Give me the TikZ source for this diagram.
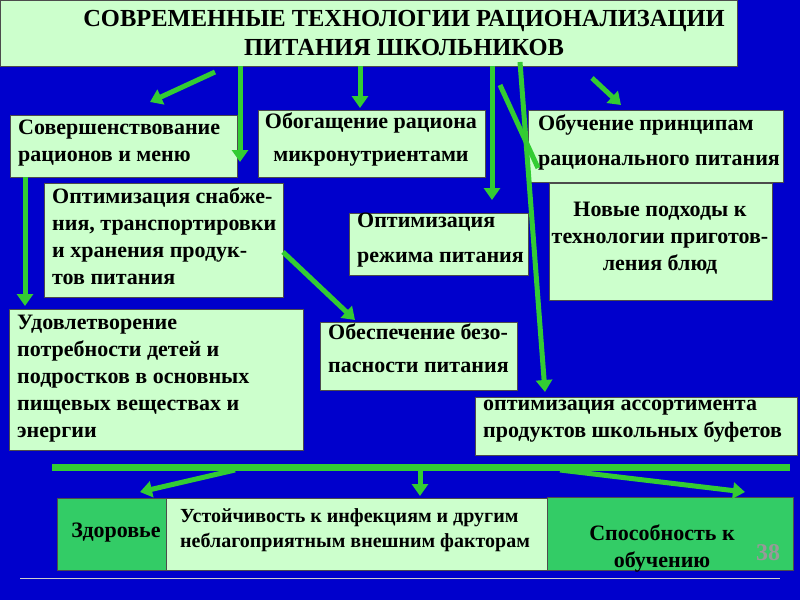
\documentclass[tikz,border=0pt]{standalone}
\usepackage{fontspec}
\setmainfont{Liberation Serif}
\usetikzlibrary{arrows.meta}
\definecolor{bg}{RGB}{0,0,204}
\definecolor{lg}{RGB}{204,255,204}
\definecolor{ag}{RGB}{51,204,51}
\definecolor{mg}{RGB}{51,204,102}
\tikzset{
 box/.style={draw=black!70,line width=0.8pt,fill=lg},
 txt/.style={font=\bfseries\fontsize{22}{27}\selectfont,align=left,anchor=north west,inner sep=0pt},
 arr/.style={ag,line width=5pt,-{Triangle[length=12pt,width=16pt]}},
}
\begin{document}
\begin{tikzpicture}[x=1pt,y=-1pt]
\fill[bg] (0,0) rectangle (800,600);
\useasboundingbox (0,0) rectangle (800,600);
\draw[box] (0,0) rectangle (737,66);
\node[font=\bfseries\fontsize{24.5}{29}\selectfont,align=center] (title) at (404,33) {СОВРЕМЕННЫЕ ТЕХНОЛОГИИ РАЦИОНАЛИЗАЦИИ\\ПИТАНИЯ ШКОЛЬНИКОВ};
\draw[box] (10,115) rectangle (237,177);
\node[txt] (b1) at (18,120) {Совершенствование\\рационов и меню};
\draw[box] (258,110) rectangle (485,177);
\node[txt,align=center,anchor=north] (b2) at (371,113) {Обогащение рациона\\[6pt]микронутриентами};
\draw[box] (528,110) rectangle (783,182);
\node[txt] (b3) at (538,115) {Обучение принципам\\[8pt]рационального питания};
\draw[box] (44,183) rectangle (283,297);
\node[txt] (b4) at (52,188) {Оптимизация снабже-\\ния, транспортировки\\и хранения продук-\\тов питания};
\draw[box] (349,213) rectangle (528,275);
\node[txt] (b5) at (357,213) {Оптимизация\\[8pt]режима питания};
\draw[box] (549,183) rectangle (772,300);
\node[txt,align=center,anchor=north] (b6) at (660,202) {Новые подходы к\\технологии приготов-\\ления блюд};
\draw[box] (9,309) rectangle (303,450);
\node[txt] (b7) at (17,315) {Удовлетворение\\потребности детей и\\подростков в основных\\пищевых веществах и\\энергии};
\draw[box] (320,322) rectangle (517,390);
\node[txt] (b8) at (328,324) {Обеспечение безо-\\[6pt]пасности питания};
\draw[box] (475,397) rectangle (797,455);
\node[txt] (b9) at (483,400) {оптимизация ассортимента\\продуктов школьных буфетов};
\draw[box,fill=mg] (57,498) rectangle (168,570);
\node[txt,anchor=center] (b10) at (116,533) {Здоровье};
\draw[box,fill=mg] (547,497) rectangle (793,570);
\node[txt,anchor=center,align=center] (b12) at (662,548) {Способность к\\обучению};
\draw[box] (166,498) rectangle (547,570);
\node[txt,font=\bfseries\fontsize{20}{25}\selectfont] (b11) at (180,508) {Устойчивость к инфекциям и другим\\неблагоприятным внешним факторам};
\node[font=\bfseries\fontsize{24}{24}\selectfont,text=black!40] (pg) at (768,553) {38};
\draw[white!80!black,line width=0.8pt] (20,578) -- (780,578);
\draw[arr] (215,72) -- (150,102);
\draw[arr] (240,66) -- (240,162);
\draw[arr] (360,66) -- (360,108);
\draw[arr] (492,66) -- (492,200);
\draw[ag,line width=5pt] (500,85) -- (538,168);
\draw[arr] (520,62) -- (545,392);
\draw[arr] (592,78) -- (621,105);
\draw[arr] (25,177) -- (25,306);
\draw[arr] (283,252) -- (355,320);
\draw[ag,line width=7pt] (52,467) -- (790,467);
\draw[arr] (235,470) -- (140,492);
\draw[arr] (420,470) -- (420,496);
\draw[arr] (560,470) -- (745,492);
\end{tikzpicture}
\end{document}
